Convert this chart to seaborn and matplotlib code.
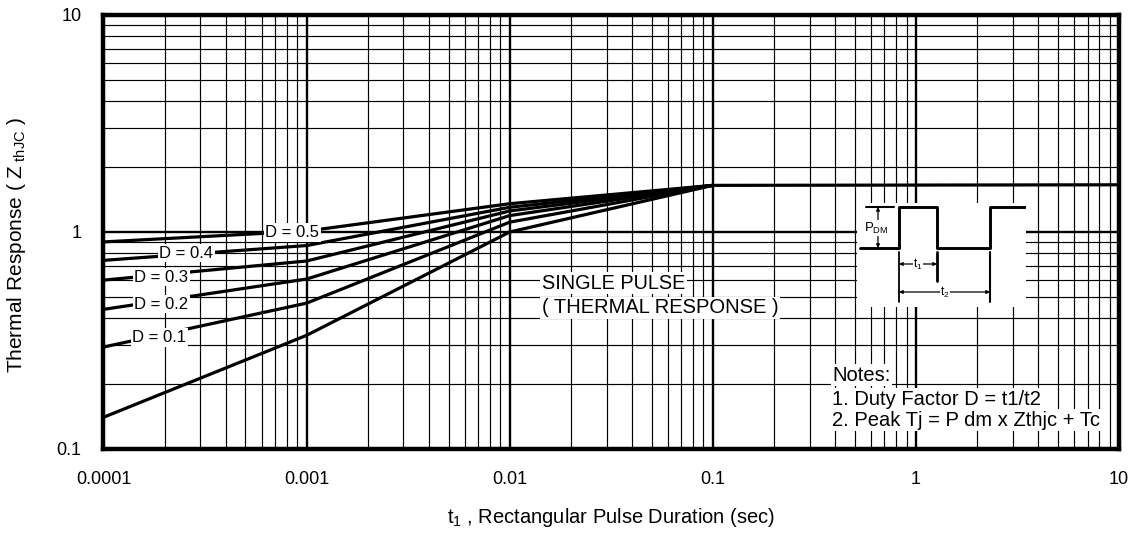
import matplotlib
matplotlib.use("Agg")
import numpy as np
import pandas as pd
import seaborn as sns
import matplotlib.pyplot as plt
from matplotlib.ticker import LogLocator, NullFormatter, FixedLocator

# pulse duration (sec) and thermal response
t_pts = [1e-4, 1e-3, 1e-2, 1e-1]
d05 = [0.90, 1.01, 1.35, 1.64]
d04 = [0.74, 0.866, 1.30, 1.64]
d03 = [0.60, 0.735, 1.25, 1.64]
d02 = [0.44, 0.607, 1.19, 1.64]
d01 = [0.295, 0.47, 1.11, 1.64]
t_single = [1e-4, 1e-3, 1e-2, 1e-1, 10]
single = [0.14, 0.334, 1.0, 1.64, 1.65]

curve_names = ["D = 0.5", "D = 0.4", "D = 0.3", "D = 0.2", "D = 0.1"]
# label anchor (t, Z) for each duty-cycle curve
label_t = [8.5e-4, 2.56e-4, 1.93e-4, 1.93e-4, 1.88e-4]
label_z = [0.995, 0.80, 0.62, 0.465, 0.327]

x_ticks = [1e-4, 1e-3, 1e-2, 1e-1, 1, 10]
x_tick_labels = ["0.0001", "0.001", "0.01", "0.1", "1", "10"]
y_ticks = [0.1, 1, 10]
y_tick_labels = ["0.1", "1", "10"]

notes = ["Notes:", "1. Duty Factor D = t1/t2", "2. Peak Tj = P dm x Zthjc + Tc"]
notes_t = 0.388
notes_z = [0.219, 0.169, 0.1355]

rows = []
for name, vals in zip(curve_names, [d05, d04, d03, d02, d01]):
    for t, z in zip(t_pts, vals):
        rows.append((name, t, z))
for t, z in zip(t_single, single):
    rows.append(("single", t, z))
df = pd.DataFrame(rows, columns=["curve", "t", "z"])

sns.set_theme(style="white")
plt.rcParams["font.family"] = ["Liberation Sans", "DejaVu Sans"]
plt.rcParams["mathtext.fontset"] = "custom"
plt.rcParams["mathtext.rm"] = "Liberation Sans"
plt.rcParams["mathtext.it"] = "Liberation Sans"
plt.rcParams["mathtext.bf"] = "Liberation Sans"
for key in ["text.color", "axes.labelcolor", "xtick.color", "ytick.color"]:
    plt.rcParams[key] = "black"

fig = plt.figure(figsize=(11.41, 5.33), dpi=100)
ax = fig.add_axes([0.0907, 0.1576, 0.8900, 0.8143])
ax.set_xscale("log")
ax.set_yscale("log")

sns.lineplot(data=df, x="t", y="z", units="curve", estimator=None, sort=False,
             color="black", lw=2.3, ax=ax, zorder=3)

ax.set_xlim(1e-4, 10)
ax.set_ylim(0.1, 10)
ax.xaxis.set_major_locator(FixedLocator(x_ticks))
ax.set_xticklabels(x_tick_labels)
ax.yaxis.set_major_locator(FixedLocator(y_ticks))
ax.set_yticklabels(y_tick_labels)
for axis in (ax.xaxis, ax.yaxis):
    axis.set_minor_locator(LogLocator(base=10, subs=np.arange(2, 10), numticks=20))
    axis.set_minor_formatter(NullFormatter())
ax.set_axisbelow(True)
ax.grid(which="major", color="black", lw=1.7)
ax.grid(which="minor", color="black", lw=0.85)
ax.tick_params(which="both", length=0, labelsize=13, colors="black")
ax.tick_params(axis="x", pad=16)
ax.tick_params(axis="y", pad=16)
for s in ax.spines.values():
    s.set_color("black")
    s.set_linewidth(3.2)

ax.set_xlabel("t$_1$ , Rectangular Pulse Duration (sec)", fontsize=14.5, color="black")
ax.set_ylabel("Thermal Response ( Z$_{\\ \\mathrm{thJC}}$ )", fontsize=15, color="black")
ax.xaxis.set_label_coords(0.5, -0.132)
ax.yaxis.set_label_coords(-0.074, 0.47)

box = dict(facecolor="white", edgecolor="none", pad=1.2)
for name, tx, zy in zip(curve_names, label_t, label_z):
    ax.text(tx, zy, name, ha="center", va="center", fontsize=12, bbox=box, zorder=5)

ax.text(0.0144, 0.58, "SINGLE PULSE", ha="left", va="center", fontsize=14.3, bbox=box, zorder=5)
ax.text(0.0144, 0.448, "( THERMAL RESPONSE )", ha="left", va="center", fontsize=14.5, bbox=box, zorder=5)

for line, zy in zip(notes, notes_z):
    ax.text(notes_t, zy, line, ha="left", va="center", fontsize=14.5, bbox=box, zorder=5)

# pulse diagram inset, drawn in its own pixel-like frame
ins = fig.add_axes([857 / 1141, 1 - 307 / 533, 169 / 1141, 104 / 533])
ins.set_facecolor("white")
ins.set_xlim(857, 1026)
ins.set_ylim(307, 203)
ins.set_xticks([])
ins.set_yticks([])
for s in ins.spines.values():
    s.set_visible(False)

wave_x = [860, 899, 899, 937, 937, 990, 990, 1025]
wave_y = [248, 248, 207, 207, 248, 248, 207, 207]
ins.plot(wave_x, wave_y, color="black", lw=2.1)
ins.plot([866, 894], [207, 207], color="black", lw=1.5)
ins.plot([899, 899], [252, 302], color="black", lw=1.3)
ins.plot([937, 937], [252, 281], color="black", lw=2)
ins.plot([990, 990], [252, 302], color="black", lw=1.5)

arrow = dict(arrowstyle="<|-|>", color="black", lw=0.9, mutation_scale=5, shrinkA=0, shrinkB=0)
ins.annotate("", xy=(878, 207), xytext=(878, 248), arrowprops=arrow)
ins.annotate("", xy=(899, 264), xytext=(937, 264), arrowprops=arrow)
ins.annotate("", xy=(899, 292), xytext=(990, 292), arrowprops=arrow)

small = dict(facecolor="white", edgecolor="none", pad=0.3)
ins.text(864, 228, "P$_{\\mathrm{DM}}$", ha="left", va="center", fontsize=9.5, bbox=small)
ins.text(918, 264, "t$_1$", ha="center", va="center", fontsize=8.5, bbox=small)
ins.text(945, 292, "t$_2$", ha="center", va="center", fontsize=8.5, bbox=small)

fig.savefig("out.png", dpi=100)
